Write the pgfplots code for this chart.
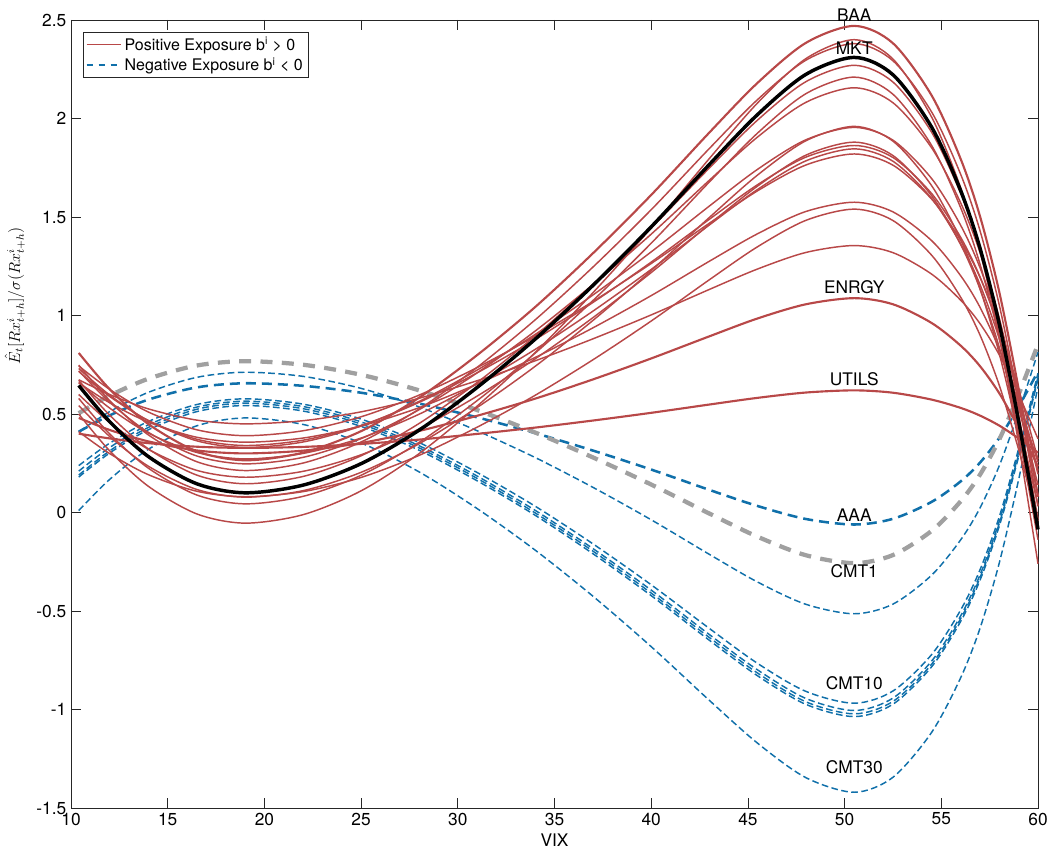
\documentclass[border=0pt]{standalone}
\usepackage{fontspec}
\setmainfont{TeX Gyre Heros}
\usepackage{pgfplots}
\usepackage{pgfplotstable}
\pgfplotsset{compat=1.18}
\definecolor{myred}{RGB}{184,72,72}
\definecolor{myblue}{RGB}{16,112,170}
\definecolor{mygray}{RGB}{160,160,160}

% positive-exposure series (red) and MKT (black)
\pgfplotstableread{
x    R1    R2     R3    R4     R5     R6    R7     R8    R9    R10   R11   R12   R13   R14   R15    R16   R17   MKT
10.4 0.810 0.500  0.748 0.671  0.579  0.719 0.543  0.731 0.599 0.716 0.661 0.744 0.674 0.658 0.410  0.480 0.400 0.645
12   0.626 0.313  0.568 0.494  0.399  0.560 0.386  0.596 0.457 0.589 0.530 0.625 0.599 0.557 0.299  0.419 0.376 0.461
14   0.449 0.133  0.394 0.323  0.225  0.407 0.235  0.466 0.321 0.467 0.403 0.510 0.526 0.459 0.192  0.361 0.352 0.284
16.5 0.311 -0.007 0.258 0.190  0.089  0.287 0.117  0.364 0.214 0.372 0.305 0.420 0.469 0.382 0.108  0.315 0.334 0.146
19   0.265 -0.054 0.213 0.146  0.044  0.247 0.078  0.330 0.179 0.340 0.272 0.390 0.450 0.357 0.080  0.300 0.328 0.100
22   0.304 -0.011 0.251 0.183  0.082  0.280 0.111  0.358 0.209 0.367 0.300 0.415 0.466 0.378 0.106  0.314 0.333 0.139
25   0.413 0.110  0.358 0.288  0.189  0.375 0.204  0.439 0.293 0.442 0.378 0.486 0.511 0.439 0.178  0.353 0.348 0.248
28   0.583 0.299  0.525 0.452  0.356  0.522 0.349  0.564 0.424 0.559 0.499 0.596 0.580 0.532 0.290  0.414 0.370 0.418
31   0.799 0.540  0.737 0.660  0.568  0.709 0.533  0.723 0.591 0.709 0.653 0.736 0.669 0.652 0.433  0.491 0.399 0.635
34   1.043 0.812  0.978 0.896  0.809  0.921 0.742  0.904 0.780 0.878 0.828 0.895 0.770 0.787 0.595  0.578 0.431 0.880
37   1.317 1.117  1.247 1.159  1.077  1.158 0.976  1.105 0.990 1.067 1.023 1.072 0.882 0.938 0.776  0.676 0.467 1.154
40   1.612 1.445  1.537 1.444  1.367  1.413 1.228  1.323 1.218 1.271 1.234 1.264 1.003 1.101 0.972  0.782 0.506 1.450
43   1.928 1.796  1.847 1.748  1.677  1.686 1.497  1.555 1.462 1.488 1.459 1.468 1.132 1.275 1.181  0.894 0.548 1.766
45.5 2.181 2.079  2.096 1.992  1.926  1.906 1.713  1.742 1.657 1.664 1.640 1.633 1.236 1.415 1.349  0.985 0.582 2.020
48   2.384 2.304  2.296 2.187  2.126  2.082 1.887  1.892 1.814 1.804 1.785 1.764 1.320 1.528 1.483  1.057 0.609 2.224
50.5 2.470 2.400  2.380 2.270  2.210  2.156 1.960  1.955 1.880 1.863 1.846 1.820 1.355 1.575 1.540  1.088 0.620 2.310
52.5 2.382 2.302  2.293 2.185  2.123  2.080 1.885  1.890 1.812 1.802 1.783 1.763 1.319 1.526 1.482  1.057 0.608 2.222
54.5 2.117 2.007  2.033 1.930  1.863  1.851 1.659  1.695 1.608 1.619 1.594 1.591 1.210 1.380 1.306  0.962 0.573 1.956
56   1.795 1.649  1.717 1.620  1.547  1.572 1.384  1.458 1.360 1.397 1.364 1.382 1.078 1.202 1.093  0.847 0.531 1.634
57   1.504 1.325  1.431 1.340  1.261  1.320 1.136  1.243 1.135 1.196 1.157 1.194 0.959 1.042 0.901  0.743 0.492 1.342
58   1.118 0.896  1.052 0.968  0.882  0.986 0.806  0.959 0.837 0.929 0.881 0.943 0.800 0.828 0.645  0.605 0.441 0.955
59   0.627 0.349  0.568 0.494  0.399  0.560 0.387  0.597 0.458 0.590 0.530 0.625 0.598 0.557 0.319  0.429 0.376 0.462
60   0.080 -0.260 0.031 -0.032 -0.138 0.087 -0.080 0.194 0.036 0.212 0.140 0.270 0.374 0.255 -0.043 0.234 0.304 -0.086
}\redtab

% negative-exposure series (blue) and the grey dashed curve
\pgfplotstableread{
x    B1     B2     B3     B4     B5     B6     B7     G
10.4 0.410  0.410  0.238  0.210  0.190  0.180  0.010  0.504
12   0.493  0.512  0.352  0.330  0.313  0.302  0.168  0.593
14   0.573  0.610  0.462  0.445  0.432  0.420  0.321  0.679
16.5 0.635  0.686  0.548  0.535  0.524  0.512  0.440  0.746
19   0.656  0.712  0.577  0.565  0.555  0.543  0.480  0.768
22   0.643  0.691  0.550  0.538  0.527  0.515  0.447  0.750
25   0.608  0.630  0.474  0.460  0.449  0.437  0.353  0.699
28   0.553  0.536  0.355  0.339  0.328  0.316  0.206  0.620
31   0.483  0.415  0.203  0.185  0.173  0.161  0.020  0.520
34   0.403  0.279  0.032  0.011  -0.002 -0.014 -0.191 0.406
37   0.314  0.127  -0.160 -0.184 -0.197 -0.210 -0.426 0.279
40   0.218  -0.037 -0.367 -0.394 -0.409 -0.422 -0.681 0.142
43   0.115  -0.212 -0.588 -0.619 -0.634 -0.648 -0.953 -0.005
45.5 0.033  -0.353 -0.766 -0.799 -0.815 -0.829 -1.171 -0.123
48   -0.033 -0.466 -0.908 -0.944 -0.961 -0.974 -1.346 -0.217
50.5 -0.061 -0.514 -0.968 -1.005 -1.022 -1.036 -1.420 -0.257
52.5 -0.032 -0.465 -0.906 -0.942 -0.959 -0.973 -1.344 -0.216
54.5 0.054  -0.318 -0.721 -0.754 -0.770 -0.783 -1.116 -0.093
56   0.158  -0.139 -0.495 -0.525 -0.539 -0.553 -0.839 0.057
57   0.253  0.023  -0.291 -0.317 -0.331 -0.344 -0.588 0.192
58   0.379  0.238  -0.021 -0.043 -0.055 -0.068 -0.255 0.371
59   0.538  0.511  0.324  0.308  0.296  0.284  0.168  0.600
60   0.716  0.815  0.707  0.697  0.688  0.676  0.640  0.854
}\bluetab

\tikzset{
  redthin/.style={myred, line width=1.1pt, smooth},
  redthick/.style={myred, line width=1.6pt, smooth},
  bluethin/.style={myblue, line width=1.1pt, smooth, dash pattern=on 5pt off 2.6pt},
  bluethick/.style={myblue, line width=1.9pt, smooth, dash pattern=on 7.5pt off 4.5pt},
  graythick/.style={mygray, line width=3.2pt, smooth, dash pattern=on 9pt off 7pt},
  lab/.style={font=\fontsize{13}{15}\selectfont, text=black, inner sep=0pt}
}

\begin{document}
\begin{tikzpicture}
\begin{axis}[
  width=725.25pt, height=591pt, scale only axis,
  xmin=10, xmax=60, ymin=-1.5, ymax=2.5,
  clip=false,
  xtick={10,15,20,25,30,35,40,45,50,55,60},
  xticklabels={10,15,20,25,30,35,40,45,50,55,60},
  ytick={-1.5,-1,-0.5,0,0.5,1,1.5,2,2.5},
  yticklabels={-1.5,-1,-0.5,0,0.5,1,1.5,2,2.5},
  tick pos=both, tick align=inside,
  major tick length=7.3pt,
  axis line style={black!85, line width=0.6pt},
  tick style={black!85, line width=0.6pt},
  tick label style={font=\fontsize{13}{15}\selectfont},
  legend cell align=left,
  legend image code/.code={\draw[#1] (0pt,0pt) -- (26pt,0pt);},
  legend style={at={(rel axis cs:0,1)}, anchor=north west, xshift=8.8pt, yshift=-8.8pt,
    draw=black!85, line width=0.6pt, font=\fontsize{12}{13.5}\selectfont,
    inner xsep=2pt, inner ysep=1.5pt, row sep=0pt},
]
\addlegendimage{myred, line width=1.1pt}
\addlegendentry{Positive Exposure b\textsuperscript{i} > 0}
\addlegendimage{myblue, line width=1.1pt, dash pattern=on 5pt off 4pt}
\addlegendentry{Negative Exposure b\textsuperscript{i} < 0}

% blue (negative exposure)
\addplot[bluethin, forget plot] table[x=x, y=B2] {\bluetab};
\addplot[bluethin, forget plot] table[x=x, y=B3] {\bluetab};
\addplot[bluethin, forget plot] table[x=x, y=B4] {\bluetab};
\addplot[bluethin, forget plot] table[x=x, y=B5] {\bluetab};
\addplot[bluethin, forget plot] table[x=x, y=B6] {\bluetab};
\addplot[bluethin, forget plot] table[x=x, y=B7] {\bluetab};
\addplot[bluethick, forget plot] table[x=x, y=B1] {\bluetab};
% grey
\addplot[graythick, forget plot] table[x=x, y=G] {\bluetab};
% red (positive exposure)
\addplot[redthick, forget plot] table[x=x, y=R1] {\redtab};
\addplot[redthin, forget plot] table[x=x, y=R2] {\redtab};
\addplot[redthin, forget plot] table[x=x, y=R3] {\redtab};
\addplot[redthin, forget plot] table[x=x, y=R4] {\redtab};
\addplot[redthin, forget plot] table[x=x, y=R5] {\redtab};
\addplot[redthin, forget plot] table[x=x, y=R6] {\redtab};
\addplot[redthin, forget plot] table[x=x, y=R7] {\redtab};
\addplot[redthin, forget plot] table[x=x, y=R8] {\redtab};
\addplot[redthin, forget plot] table[x=x, y=R9] {\redtab};
\addplot[redthin, forget plot] table[x=x, y=R10] {\redtab};
\addplot[redthin, forget plot] table[x=x, y=R11] {\redtab};
\addplot[redthin, forget plot] table[x=x, y=R12] {\redtab};
\addplot[redthin, forget plot] table[x=x, y=R13] {\redtab};
\addplot[redthin, forget plot] table[x=x, y=R14] {\redtab};
\addplot[redthin, forget plot] table[x=x, y=R15] {\redtab};
\addplot[redthick, forget plot] table[x=x, y=R16] {\redtab};
\addplot[redthick, forget plot] table[x=x, y=R17] {\redtab};
% MKT
\addplot[black, line width=2.6pt, smooth, forget plot] table[x=x, y=MKT] {\redtab};

\node[lab] at (axis cs:50.5,2.523) {BAA};
\node[lab] at (axis cs:50.5,2.355) {MKT};
\node[lab] at (axis cs:50.5,1.142) {ENRGY};
\node[lab] at (axis cs:50.5,0.675) {UTILS};
\node[lab] at (axis cs:50.5,-0.015) {AAA};
\node[lab] at (axis cs:50.5,-0.300) {CMT1};
\node[lab] at (axis cs:50.5,-0.868) {CMT10};
\node[lab] at (axis cs:50.5,-1.294) {CMT30};

\coordinate (sw) at (rel axis cs:0,0);
\coordinate (ne) at (rel axis cs:1,1);
\coordinate (yl) at (rel axis cs:0,0.65);
\coordinate (xl) at (rel axis cs:0.5,0);
\end{axis}
\node[rotate=90, font=\fontsize{12}{14}\selectfont] at ([xshift=-42pt]yl)
  {$\hat{E}_t[Rx^i_{t+h}]/\sigma(Rx^i_{t+h})$};
\node[font=\fontsize{13}{15}\selectfont] at ([yshift=-24pt]xl) {VIX};
\pgfresetboundingbox
\path[use as bounding box] ([shift={(-53.25pt,-31.5pt)}]sw) rectangle ([shift={(9pt,15pt)}]ne);
\end{tikzpicture}
\end{document}
